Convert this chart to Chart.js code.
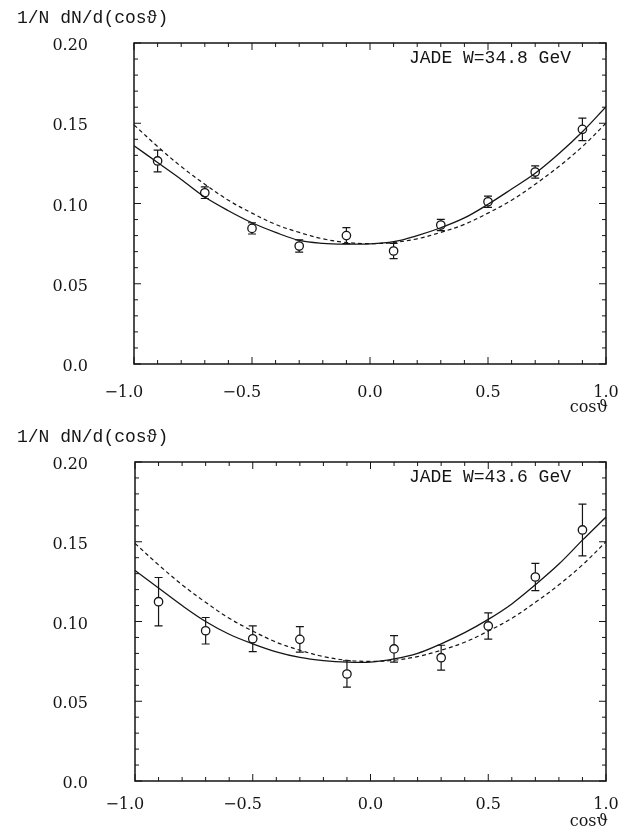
<!DOCTYPE html>
<html>
<head>
<meta charset="utf-8">
<script src="https://cdn.jsdelivr.net/npm/chart.js@4.4.1/dist/chart.umd.min.js"></script>
<style>
html, body { margin: 0; padding: 0; background: #fff; }
#wrap { position: relative; width: 621px; height: 827px; }
canvas { position: absolute; left: 0; }
#top { top: 0; }
#bottom { top: 413px; }
</style>
</head>
<body>
<div id="wrap">
<canvas id="top" width="621" height="413"></canvas>
<canvas id="bottom" width="621" height="414"></canvas>
</div>
<script>
// measured points (bin centres in cos theta)
const cosBins = [-0.9, -0.7, -0.5, -0.3, -0.1, 0.1, 0.3, 0.5, 0.7, 0.9];

const dist348 = [0.1265, 0.1067, 0.0845, 0.0735, 0.0800, 0.0704, 0.0866, 0.1011, 0.1196, 0.1462];
const err348  = [0.0068, 0.0036, 0.0035, 0.0038, 0.0050, 0.0047, 0.0035, 0.0035, 0.0038, 0.0070];

const dist436 = [0.1124, 0.0942, 0.0892, 0.0888, 0.0671, 0.0828, 0.0773, 0.0972, 0.1279, 0.1574];
const err436  = [0.0152, 0.0083, 0.0081, 0.0080, 0.0083, 0.0083, 0.0078, 0.0082, 0.0086, 0.0162];

// curves
const curveX = [-1.0, -0.9, -0.8, -0.7, -0.6, -0.5, -0.4, -0.3, -0.2, -0.1, 0.0,
                0.1, 0.2, 0.3, 0.4, 0.5, 0.6, 0.7, 0.8, 0.9, 1.0];
const fit348 = [0.1360, 0.1255, 0.1150, 0.1040, 0.0955, 0.0880, 0.0820, 0.0770, 0.0752, 0.0747, 0.0748,
                0.0762, 0.0800, 0.0849, 0.0910, 0.0995, 0.1090, 0.1188, 0.1310, 0.1447, 0.1603];
const fit436 = [0.1320, 0.1210, 0.1100, 0.1000, 0.0920, 0.0860, 0.0810, 0.0775, 0.0755, 0.0745, 0.0745,
                0.0765, 0.0800, 0.0860, 0.0930, 0.1013, 0.1110, 0.1230, 0.1360, 0.1510, 0.1655];
const symCurve = [0.1490, 0.1355, 0.1230, 0.1120, 0.1020, 0.0940, 0.0870, 0.0820, 0.0780, 0.0757, 0.0750,
                  0.0757, 0.0780, 0.0820, 0.0870, 0.0940, 0.1020, 0.1120, 0.1230, 0.1355, 0.1500];

const yTicks = [0, 0.05, 0.10, 0.15, 0.20];
const xTicks = [-1.0, -0.5, 0.0, 0.5, 1.0];

const ink = '#151515';

// no automatic label padding, the plot box is fixed
function noPad(s) {
  s.paddingTop = 0; s.paddingBottom = 0; s.paddingLeft = 0; s.paddingRight = 0;
}

const framePlugin = {
  id: 'frame',
  beforeDatasetsDraw(chart) {
    const {ctx, scales: {x, y}} = chart;
    const pts = chart.data.datasets.find(d => d.yErr);
    ctx.save();
    ctx.strokeStyle = ink;
    ctx.lineWidth = 1.2;
    pts.data.forEach((p, i) => {
      const px = x.getPixelForValue(p.x);
      const y1 = y.getPixelForValue(p.y - pts.yErr[i]);
      const y2 = y.getPixelForValue(p.y + pts.yErr[i]);
      ctx.beginPath();
      ctx.moveTo(px, y1); ctx.lineTo(px, y2);
      ctx.moveTo(px - 4, y1); ctx.lineTo(px + 4, y1);
      ctx.moveTo(px - 4, y2); ctx.lineTo(px + 4, y2);
      ctx.stroke();
    });
    ctx.restore();
  },
  afterDraw(chart, args, opts) {
    const {ctx, chartArea: a, scales: {x, y}} = chart;
    ctx.save();
    ctx.strokeStyle = ink;
    ctx.lineWidth = 1.5;
    ctx.strokeRect(a.left, a.top, a.right - a.left, a.bottom - a.top);
    ctx.lineWidth = 1;
    ctx.beginPath();
    for (let k = -10; k <= 10; k++) {
      const px = x.getPixelForValue(k / 10);
      const len = k % 5 === 0 ? 7 : 4;
      ctx.moveTo(px, a.bottom); ctx.lineTo(px, a.bottom - len);
      ctx.moveTo(px, a.top); ctx.lineTo(px, a.top + len);
    }
    for (let k = 0; k <= 20; k++) {
      const py = y.getPixelForValue(k / 100);
      const len = k % 5 === 0 ? 7 : 4;
      ctx.moveTo(a.left, py); ctx.lineTo(a.left + len, py);
      ctx.moveTo(a.right, py); ctx.lineTo(a.right - len, py);
    }
    ctx.stroke();

    ctx.fillStyle = ink;
    ctx.font = '18px "Liberation Mono", monospace';
    ctx.textBaseline = 'alphabetic';
    ctx.textAlign = 'right';
    ctx.fillText(opts.label, a.right - 35, a.top + 20);
    ctx.textAlign = 'left';
    ctx.fillText('1/N dN/d(cos\u03D1)', 17, a.top - 20);
    ctx.font = '16px "DejaVu Serif", serif';
    ctx.textAlign = 'right';
    ctx.fillText('cos\u03D1', a.right + 2, a.bottom + opts.xTitleGap);
    ctx.restore();
  }
};

function makeChart(id, values, errors, fit, label, pad, xTitleGap) {
  return new Chart(document.getElementById(id), {
    type: 'scatter',
    data: {
      datasets: [
        {
          type: 'line',
          data: curveX.map((c, i) => ({x: c, y: fit[i]})),
          borderColor: ink,
          borderWidth: 1.3,
          pointRadius: 0,
          tension: 0.35,
          order: 1
        },
        {
          type: 'line',
          data: curveX.map((c, i) => ({x: c, y: symCurve[i]})),
          borderColor: ink,
          borderWidth: 1.2,
          borderDash: [4, 3],
          pointRadius: 0,
          tension: 0.35,
          order: 1
        },
        {
          data: cosBins.map((c, i) => ({x: c, y: values[i]})),
          yErr: errors,
          pointStyle: 'circle',
          pointRadius: 4.2,
          pointBorderWidth: 1.3,
          pointBorderColor: ink,
          pointBackgroundColor: '#fff',
          order: 2
        }
      ]
    },
    options: {
      responsive: false,
      animation: false,
      events: [],
      layout: {autoPadding: false, padding: {left: 0, right: 15, top: pad.top, bottom: 0}},
      plugins: {
        legend: {display: false},
        tooltip: {enabled: false},
        frame: {label: label, xTitleGap: xTitleGap}
      },
      scales: {
        x: {
          type: 'linear',
          min: -1, max: 1,
          afterFit: s => { s.height = pad.xh; noPad(s); },
          afterBuildTicks: s => { s.ticks = xTicks.map(v => ({value: v})); },
          grid: {display: false, drawTicks: false},
          border: {display: false},
          ticks: {
            padding: pad.xlab,
            color: ink,
            font: {family: '"DejaVu Serif", serif', size: 16},
            // negative labels sit a little left of their tick, as in the original
            callback: v => v < 0 ? '\u2212' + Math.abs(v).toFixed(1) + '\u2007\u2007' : v.toFixed(1)
          }
        },
        y: {
          type: 'linear',
          min: 0, max: 0.2,
          afterFit: s => { s.width = pad.left; noPad(s); },
          afterBuildTicks: s => { s.ticks = yTicks.map(v => ({value: v})); },
          grid: {display: false, drawTicks: false},
          border: {display: false},
          ticks: {
            padding: pad.left - 88,
            labelOffset: 3,
            color: ink,
            font: {family: '"DejaVu Serif", serif', size: 16},
            callback: v => v === 0 ? '0.0' : v.toFixed(2)
          }
        }
      }
    },
    plugins: [framePlugin]
  });
}

makeChart('top', dist348, err348, fit348, 'JADE W=34.8 GeV',
  {top: 43, left: 134, xh: 49, xlab: 19}, 48);
makeChart('bottom', dist436, err436, fit436, 'JADE W=43.6 GeV',
  {top: 49, left: 135, xh: 46, xlab: 14}, 45);
</script>
</body>
</html>
